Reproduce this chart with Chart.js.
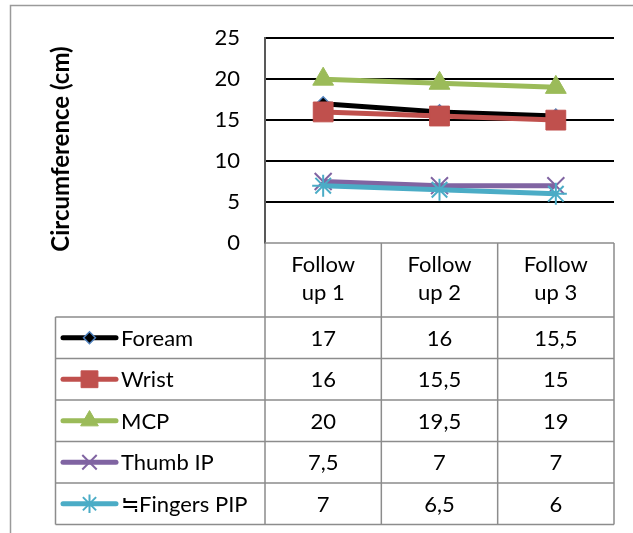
<!DOCTYPE html>
<html>
<head>
<meta charset="utf-8">
<script src="https://cdn.jsdelivr.net/npm/chart.js@4/dist/chart.umd.min.js"></script>
<style>
  html, body { margin: 0; padding: 0; background: #ffffff; }
  canvas { display: block; }
</style>
</head>
<body>
<canvas id="c" width="633" height="533"></canvas>
<script>
// Data
const categories = [['Follow', 'up 1'], ['Follow', 'up 2'], ['Follow', 'up 3']];
const seriesNames = ['Foream', 'Wrist', 'MCP', 'Thumb IP', '≒Fingers PIP'];
const foream = [17, 16, 15.5];
const wrist = [16, 15.5, 15];
const mcp = [20, 19.5, 19];
const thumbIP = [7.5, 7, 7];
const fingersPIP = [7, 6.5, 6];
const yMin = 0, yMax = 25, yStep = 5;
const yTitle = 'Circumference (cm)';

const FONT = 'Lato, "Open Sans", sans-serif';
const TEXT_SIZE = 22;

// Series look: line colour and marker
const looks = [
  { color: '#000000', style: 'rectRot',  radius: 7,   fill: '#000000', border: '#4F81BD', bw: 1.5 },
  { color: '#C0504D', style: 'rect',     radius: 14,  fill: '#C0504D', border: '#C0504D', bw: 1 },
  { color: '#9BBB59', style: 'triangle', radius: 12,  fill: '#9BBB59', border: '#9BBB59', bw: 1 },
  { color: '#8064A2', style: 'crossRot', radius: 12,  fill: '#8064A2', border: '#8064A2', bw: 2 },
  { color: '#4BACC6', style: 'star',     radius: 11,  fill: '#4BACC6', border: '#4BACC6', bw: 2 }
];
const seriesValues = [foream, wrist, mcp, thumbIP, fingersPIP];

const datasets = seriesNames.map((name, i) => ({
  label: name,
  data: seriesValues[i],
  borderColor: looks[i].color,
  backgroundColor: looks[i].fill,
  borderWidth: 5,
  pointStyle: looks[i].style,
  pointRadius: looks[i].radius,
  pointHoverRadius: looks[i].radius,
  pointBackgroundColor: looks[i].fill,
  pointBorderColor: looks[i].border,
  pointBorderWidth: looks[i].bw,
  tension: 0,
  fill: false,
  order: seriesNames.length - i   // later series drawn on top
}));

const fmt = v => String(v).replace('.', ',');

// Frame, axis title and the data table under the plot
const tablePlugin = {
  id: 'dataTable',
  beforeDraw(chart) {
    const ctx = chart.ctx;
    ctx.save();
    ctx.fillStyle = '#ffffff';
    ctx.fillRect(0, 0, chart.width, chart.height);
    ctx.strokeStyle = '#9a9a9a';
    ctx.lineWidth = 1.5;
    ctx.strokeRect(10.5, 5.5, 700, 700);
    ctx.restore();
  },
  afterDraw(chart) {
    const ctx = chart.ctx;
    const area = chart.chartArea;
    const xs = chart.scales.x;
    const n = categories.length;
    const colW = (area.right - area.left) / n;
    const headerTop = area.bottom;
    const headerBottom = 317;
    const rowH = 41.5;
    const legendLeft = 55.5;
    const tableBottom = headerBottom + rowH * seriesNames.length;

    ctx.save();
    // y axis title
    ctx.translate(61, 149);
    ctx.rotate(-Math.PI / 2);
    ctx.font = 'bold 24px ' + FONT;
    ctx.fillStyle = '#000000';
    ctx.textAlign = 'center';
    ctx.textBaseline = 'middle';
    ctx.fillText(yTitle, 0, 0);
    ctx.restore();

    ctx.save();
    ctx.strokeStyle = '#8c8c8c';
    ctx.lineWidth = 1.5;
    ctx.beginPath();
    // header top line (x axis)
    ctx.moveTo(area.left, headerTop);
    ctx.lineTo(area.right, headerTop);
    // column lines
    for (let c = 0; c <= n; c++) {
      const x = area.left + c * colW;
      ctx.moveTo(x, headerTop);
      ctx.lineTo(x, tableBottom);
    }
    // row lines
    for (let r = 0; r <= seriesNames.length; r++) {
      const y = headerBottom + r * rowH;
      ctx.moveTo(legendLeft, y);
      ctx.lineTo(area.right, y);
    }
    ctx.moveTo(legendLeft, headerBottom);
    ctx.lineTo(legendLeft, tableBottom);
    ctx.stroke();

    ctx.fillStyle = '#000000';
    ctx.font = TEXT_SIZE + 'px ' + FONT;
    ctx.textBaseline = 'middle';
    ctx.textAlign = 'center';
    // category headers
    categories.forEach((lines, c) => {
      const cx = xs.getPixelForValue(c);
      lines.forEach((t, k) => ctx.fillText(t, cx, 265 + k * 28));
    });
    // values
    seriesValues.forEach((vals, r) => {
      const cy = headerBottom + r * rowH + rowH / 2 + 1;
      vals.forEach((v, c) => ctx.fillText(fmt(v), xs.getPixelForValue(c), cy));
    });

    // legend keys and names
    seriesNames.forEach((name, r) => {
      const cy = headerBottom + r * rowH + rowH / 2;
      const lk = looks[r];
      ctx.strokeStyle = lk.color;
      ctx.lineWidth = 5;
      ctx.lineCap = 'round';
      ctx.beginPath();
      ctx.moveTo(63, cy);
      ctx.lineTo(116, cy);
      ctx.stroke();
      ctx.lineCap = 'butt';
      ctx.fillStyle = lk.fill;
      ctx.strokeStyle = lk.border;
      ctx.lineWidth = lk.bw;
      Chart.helpers.drawPoint(ctx, {
        pointStyle: lk.style, radius: lk.radius * 0.85, rotation: 0, borderWidth: lk.bw
      }, 89.5, cy);
      ctx.fillStyle = '#000000';
      ctx.textAlign = 'left';
      ctx.fillText(name, 121, cy + 1);
    });
    ctx.restore();
  }
};

new Chart(document.getElementById('c'), {
  type: 'line',
  data: { labels: categories.map(l => l.join(' ')), datasets },
  options: {
    responsive: false,
    animation: false,
    events: [],
    layout: { padding: { left: 0, top: 35, right: 19, bottom: 290 } },
    plugins: { legend: { display: false }, tooltip: { enabled: false }, title: { display: false } },
    scales: {
      x: { display: false, offset: true },
      y: {
        min: yMin, max: yMax,
        afterFit(s) { s.width = 265; },
        ticks: {
          stepSize: yStep,
          padding: 25,
          color: '#000000',
          font: { family: FONT, size: TEXT_SIZE }
        },
        grid: {
          drawTicks: false,
          lineWidth: 2,
          color: ctx => (ctx.tick && ctx.tick.value === 0) ? 'rgba(0,0,0,0)' : '#000000'
        },
        border: { display: true, color: '#595959', width: 2 }
      }
    }
  },
  plugins: [tablePlugin]
});
</script>
</body>
</html>
